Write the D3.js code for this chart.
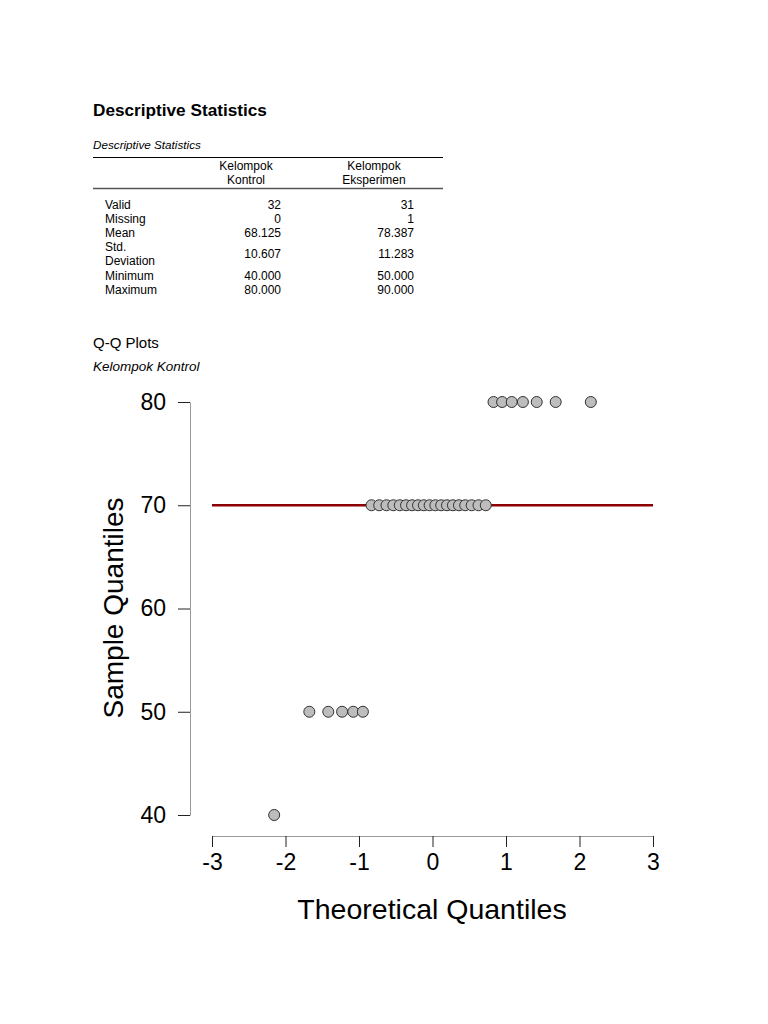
<!DOCTYPE html>
<html>
<head>
<meta charset="utf-8">
<script src="https://cdn.jsdelivr.net/npm/d3@7"></script>
<style>
  body { margin: 0; background: #fff; font-family: "Liberation Sans", Arial, sans-serif; }
</style>
</head>
<body>
<svg id="page" width="768" height="1024"></svg>
<script>
// Table data
const tableCols = ['Kelompok\nKontrol', 'Kelompok\nEksperimen'];
const tableRows = ['Valid', 'Missing', 'Mean', 'Std.\nDeviation', 'Minimum', 'Maximum'];
const kontrolVals = ['32', '0', '68.125', '10.607', '40.000', '80.000'];
const eksperimenVals = ['31', '1', '78.387', '11.283', '50.000', '90.000'];

// Q-Q data (Kelompok Kontrol)
const theoretical = [-2.154, -1.676, -1.418, -1.230, -1.078, -0.947, -0.830, -0.725,
  -0.626, -0.533, -0.445, -0.360, -0.278, -0.197, -0.118, -0.039,
  0.039, 0.118, 0.197, 0.278, 0.360, 0.445, 0.533, 0.626,
  0.725, 0.830, 0.947, 1.078, 1.230, 1.418, 1.676, 2.154];
const sample = [40, 50, 50, 50, 50, 50, 70, 70, 70, 70, 70, 70, 70, 70, 70, 70,
  70, 70, 70, 70, 70, 70, 70, 70, 70, 80, 80, 80, 80, 80, 80, 80];
const qqLine = [{x: -3, y: 70}, {x: 3, y: 70}];
const xTicks = [-3, -2, -1, 0, 1, 2, 3];
const yTicks = [40, 50, 60, 70, 80];

const svg = d3.select('#page');

// ---- Descriptive statistics table ----
svg.append('text')
  .attr('x', 93).attr('y', 116)
  .style('font-size', '17.2px').style('font-weight', 'bold')
  .text('Descriptive Statistics');

svg.append('text')
  .attr('x', 93).attr('y', 149)
  .style('font-size', '11.7px').style('font-style', 'italic')
  .text('Descriptive Statistics');

svg.append('line')
  .attr('x1', 93).attr('x2', 443).attr('y1', 157.5).attr('y2', 157.5)
  .attr('stroke', '#000').attr('stroke-width', 1);
svg.append('line')
  .attr('x1', 93).attr('x2', 443).attr('y1', 188.5).attr('y2', 188.5)
  .attr('stroke', '#555').attr('stroke-width', 1.5);

const colCenters = [246, 374];
const colRight = [281, 414];

tableCols.forEach((c, i) => {
  c.split('\n').forEach((line, j) => {
    svg.append('text')
      .attr('x', colCenters[i]).attr('y', 170 + j * 14)
      .attr('text-anchor', 'middle')
      .style('font-size', '12px')
      .text(line);
  });
});

const rowY = [209, 223, 237, 258, 280, 294];
tableRows.forEach((r, i) => {
  const parts = r.split('\n');
  parts.forEach((line, j) => {
    svg.append('text')
      .attr('x', 105)
      .attr('y', parts.length > 1 ? rowY[i] - 7 + j * 14 : rowY[i])
      .style('font-size', '12px')
      .text(line);
  });
  [kontrolVals, eksperimenVals].forEach((vals, k) => {
    svg.append('text')
      .attr('x', colRight[k]).attr('y', rowY[i])
      .attr('text-anchor', 'end')
      .style('font-size', '12px')
      .text(vals[i]);
  });
});

// ---- Q-Q plot ----
svg.append('text')
  .attr('x', 93).attr('y', 348)
  .style('font-size', '15px')
  .text('Q-Q Plots');
svg.append('text')
  .attr('x', 93).attr('y', 371)
  .style('font-size', '13.5px').style('font-style', 'italic')
  .text('Kelompok Kontrol');

const x = d3.scaleLinear().domain([-3, 3]).range([212, 653]);
const y = d3.scaleLinear().domain([40, 80]).range([815, 402]);

// x axis
const xAxis = svg.append('g')
  .attr('transform', 'translate(0,836)')
  .call(d3.axisBottom(x).tickValues(xTicks).tickSize(11).tickSizeOuter(0).tickFormat(d3.format('d')));
xAxis.select('.domain').attr('stroke', '#999');
xAxis.selectAll('.tick line').attr('stroke', '#222');
xAxis.selectAll('.tick text')
  .attr('y', 18)
  .style('font-family', '"Liberation Sans", Arial, sans-serif')
  .style('font-size', '23px').attr('fill', '#000');
xAxis.selectAll('.tick text').text(d => d < 0 ? '-' + Math.abs(d) : d);

// y axis
const yAxis = svg.append('g')
  .attr('transform', 'translate(190,0)')
  .call(d3.axisLeft(y).tickValues(yTicks).tickSize(12).tickSizeOuter(0));
yAxis.select('.domain').attr('stroke', '#999');
yAxis.selectAll('.tick line').attr('stroke', '#222');
yAxis.selectAll('.tick text')
  .attr('x', -24)
  .style('font-family', '"Liberation Sans", Arial, sans-serif')
  .style('font-size', '23px').attr('fill', '#000');

// axis titles
svg.append('text')
  .attr('x', 432).attr('y', 919)
  .attr('text-anchor', 'middle')
  .style('font-size', '28.5px')
  .text('Theoretical Quantiles');
svg.append('text')
  .attr('transform', 'translate(123,608) rotate(-90)')
  .attr('text-anchor', 'middle')
  .style('font-size', '28px')
  .text('Sample Quantiles');

// reference line
svg.append('path')
  .datum(qqLine)
  .attr('d', d3.line().x(d => x(d.x)).y(d => y(d.y)))
  .attr('stroke', '#8b0000').attr('stroke-width', 2.5).attr('fill', 'none');

// points
svg.selectAll('circle.pt')
  .data(theoretical.map((t, i) => ({t, s: sample[i]})))
  .enter().append('circle')
  .attr('class', 'pt')
  .attr('cx', d => x(d.t))
  .attr('cy', d => y(d.s))
  .attr('r', 5.5)
  .attr('fill', '#bdbdbd')
  .attr('stroke', '#333')
  .attr('stroke-width', 1);
</script>
</body>
</html>
